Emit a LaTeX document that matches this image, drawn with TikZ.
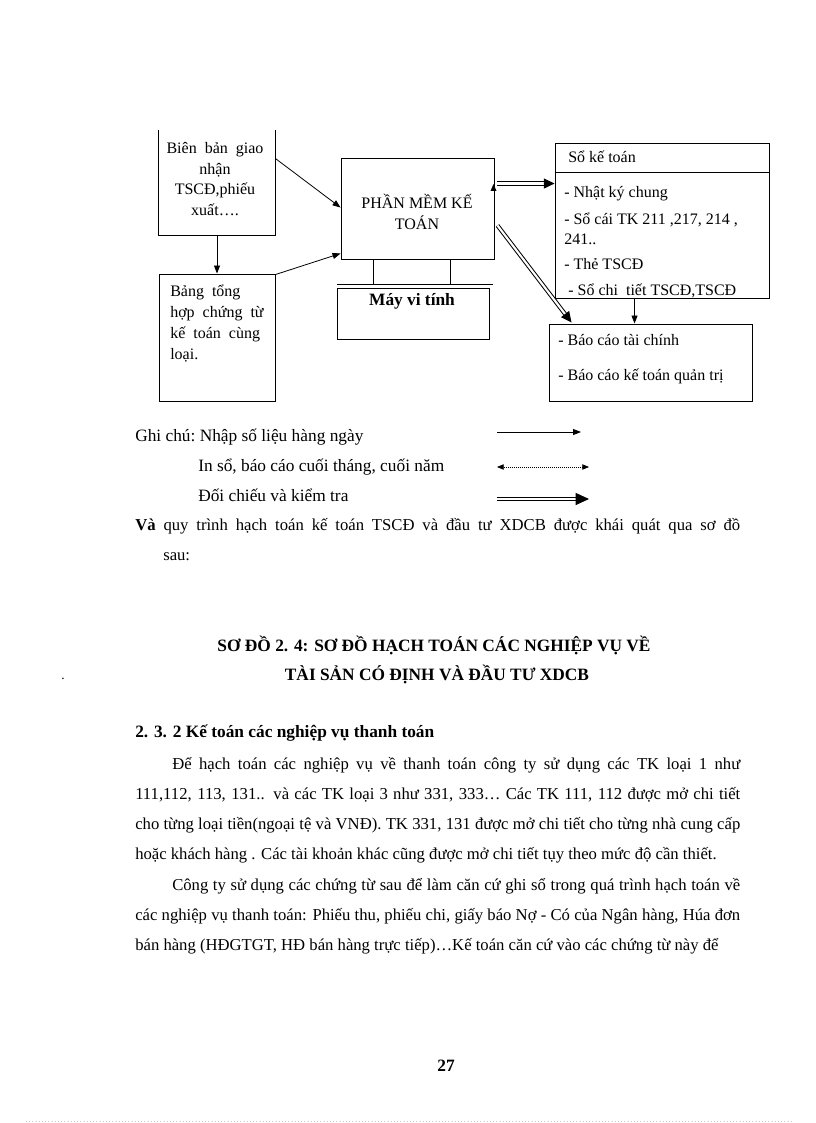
\documentclass[tikz,border=0pt]{standalone}
\usepackage{fontspec}
\setmainfont{Liberation Serif}
\usetikzlibrary{arrows.meta,fit,calc}
\begin{document}
\begin{tikzpicture}[x=0.75pt,y=-0.75pt,
  box/.style={draw, line width=0.7pt, inner sep=0pt},
  dtxt/.style={inner sep=0pt, font=\fontsize{12}{15.6}\selectfont},
  ltxt/.style={inner sep=0pt, anchor=base west, font=\fontsize{13}{16}\selectfont},
  arr/.style={line width=0.6pt, -{Triangle[length=6pt,width=4.5pt]}},
  dbl/.style={double, double distance=1.6pt, line width=0.75pt, -{Triangle[length=8pt,width=7.5pt]}},
  dotarr/.style={line width=0.5pt, densely dotted, {Triangle[length=5pt,width=4pt]}-{Triangle[length=5pt,width=4pt]}}]
\useasboundingbox (0,0) rectangle (816,1123);

% ---------- boxes ----------
\node[box, draw=none, fit={(159,130)(275,235)}] (bb) {};
\draw[line width=0.7pt] (bb.north west) -- (bb.south west) -- (bb.south east) -- (bb.north east);
\node[box, fit={(159,274)(275,401)}] (bt) {};
\node[box, fit={(341,158)(494,259)}] (pm) {};
\node[box, fit={(337,288)(489,339)}] (mvt) {};
\node[box, fit={(555,143)(769,298)}] (sk) {};
\node[box, fit={(549,324)(752,401)}] (bc) {};
\draw[line width=0.7pt] ($(sk.north west)+(0,30)$) -- ($(sk.north east)+(0,30)$);
% computer stand
\draw[line width=0.7pt] ($(pm.south west)+(33,0)$) -- ++(0,25);
\draw[line width=0.7pt] ($(pm.south west)+(110,0)$) -- ++(0,25);
\draw[line width=0.7pt] (337,284.5) -- (493,284.5);
\fill (490.5,191) -- (496.5,191) -- (493.5,184) -- cycle;

% ---------- box texts ----------
\node[dtxt, align=center, anchor=north] (t1) at (215,142) {Biên\ \ bản\ \ giao\\nhận\\TSCĐ,phiếu\\xuất….};
\node[dtxt, align=left, anchor=north west] (t2) at (170,285) {Bảng\ \ tổng\\hợp\ \ chứng\ \ từ\\kế\ \ toán\ \ cùng\\loại.};
\node[dtxt, align=center, anchor=north] (t3) at (417,194) {PHẦN MỀM KẾ\\TOÁN};
\node[inner sep=0pt, anchor=base, font=\fontsize{13}{16}\selectfont\bfseries] (t4) at (412,305) {Máy vi tính};
\node[dtxt, anchor=base west] (s0) at (568,163) {Sổ kế toán};
\node[dtxt, anchor=base west] (s1) at (564,198) {- Nhật ký chung};
\node[dtxt, anchor=base west] (s2) at (564,224) {- Sổ cái TK 211 ,217, 214 ,};
\node[dtxt, anchor=base west] (s3) at (564,244) {241..};
\node[dtxt, anchor=base west] (s4) at (564,269) {- Thẻ TSCĐ};
\node[dtxt, anchor=base west] (s5) at (568,295) {- Sổ chi\ \ tiết TSCĐ,TSCĐ};
\node[dtxt, anchor=base west] (b1) at (558,345) {- Báo cáo tài chính};
\node[dtxt, anchor=base west] (b2) at (558,380) {- Báo cáo kế toán quản trị};

% ---------- connectors ----------
\draw[arr] ($(bb.north east)+(0,29)$) -- ($(pm.north west)+(0,50)$);
\draw[arr] ($(bt.north east)+(0,1)$) -- ($(pm.south west)+(0,-6)$);
\draw[arr] (bb.south) -- (bt.north);
\draw[dbl] ($(pm.north east)+(3,26)$) -- ($(sk.north west)+(0,41)$);
\draw[dbl] ($(pm.east)+(3,17)$) -- ($(bc.north west)+(23,-1)$);
\draw[arr] ($(sk.south west)+(80,0)$) -- ($(bc.north west)+(86,0)$);

% ---------- legend ----------
\node[ltxt] (g1) at (135,441) {Ghi chú:\ Nhập\ số liệu hàng\ ngày};
\node[ltxt] (g2) at (198,471) {In sổ, báo\ cáo cuối tháng,\ cuối năm};
\node[ltxt] (g3) at (198,501) {Đối chiếu và kiểm tra};
\coordinate (l1a) at (497,432); \coordinate (l1b) at (581,432);
\coordinate (l2a) at (497,467); \coordinate (l2b) at (589,467);
\coordinate (l3a) at (497,499); \coordinate (l3b) at (589,499);
\draw[arr] (l1a) -- (l1b);
\draw[dotarr] (l2a) -- (l2b);
\draw[dbl, -{Triangle[length=10pt,width=9pt]}] (l3a) -- (l3b);

% ---------- paragraph ----------
\node[inner sep=0pt, anchor=base west] (p1) at (135,530) {\begin{minipage}[t]{453.75pt}\fontsize{12.5}{22.7}\selectfont
\hyphenpenalty=10000 \tolerance=10000 \spaceskip=.25em plus .3em minus .1em
\hangindent=21pt \hangafter=1 \noindent
\textbf{Và} quy trình hạch toán kế toán TSCĐ và đầu tư XDCB được khái quát qua sơ đồ\linebreak sau:\end{minipage}};

% ---------- title ----------
\node[inner sep=0pt, anchor=base, font=\fontsize{13}{16}\selectfont\bfseries] (h1) at (434,651) {SƠ ĐỒ 2. 4: SƠ ĐỒ HẠCH TOÁN CÁC NGHIỆP VỤ VỀ};
\node[inner sep=0pt, anchor=base, font=\fontsize{13}{16}\selectfont\bfseries] (h2) at (437,680) {TÀI SẢN CÓ ĐỊNH VÀ ĐẦU TƯ XDCB};
\node[inner sep=0pt, anchor=base, font=\fontsize{10}{12}\selectfont] (dot) at (63,679) {.};

% ---------- section ----------
\node[inner sep=0pt, anchor=base west, font=\fontsize{13}{16}\selectfont\bfseries] (sec) at (135,737) {2. 3. 2 Kế toán các nghiệp vụ thanh toán};
\node[inner sep=0pt, anchor=base west] (body) at (135,769) {\begin{minipage}[t]{453.75pt}\fontsize{12.5}{22.7}\selectfont
\hyphenpenalty=10000 \tolerance=10000 \spaceskip=.25em plus .3em minus .1em \parindent=27.75pt
Để hạch toán các nghiệp vụ về thanh toán công ty sử dụng các TK loại 1 như\linebreak
111,112, 113, 131.. và các TK loại 3 như 331, 333… Các TK 111, 112 được mở chi tiết\linebreak
cho từng loại tiền(ngoại tệ và VNĐ). TK 331, 131 được mở chi tiết cho từng nhà cung cấp\linebreak
hoặc khách hàng . Các tài khoản khác cũng được mở chi tiết tụy theo mức độ cần thiết.\par
Công ty sử dụng các chứng từ sau để làm căn cứ ghi sổ trong quá trình hạch toán về\linebreak
các nghiệp vụ thanh toán: Phiếu thu, phiếu chi, giấy báo Nợ - Có của Ngân hàng, Húa đơn\linebreak
bán hàng (HĐGTGT, HĐ bán hàng trực tiếp)…Kế toán căn cứ vào các chứng từ này để\end{minipage}};

% ---------- page number ----------
\node[inner sep=0pt, anchor=base, font=\fontsize{13}{16}\selectfont\bfseries] (pg) at (446,1071) {27};
\draw[gray!40, line width=0.4pt, dotted] (26,1121) -- (791,1121);
\end{tikzpicture}
\end{document}
